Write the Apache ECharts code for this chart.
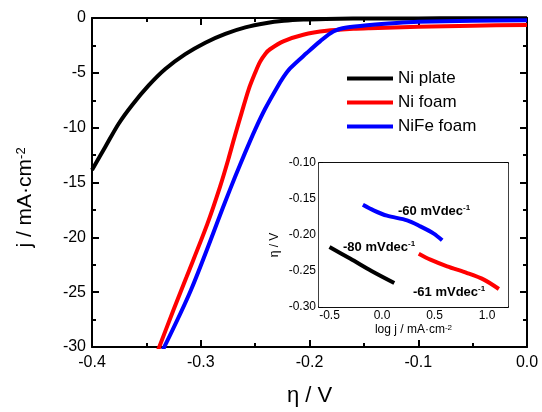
<!DOCTYPE html>
<html>
<head>
<meta charset="utf-8">
<script src="https://cdn.jsdelivr.net/npm/echarts@6/dist/echarts.min.js"></script>
<style>
  html, body { margin: 0; padding: 0; background: #fff; }
  #chart { width: 542px; height: 412px; }
</style>
</head>
<body>
<div id="chart"></div>
<script>
// main polarization curves (eta / V, j / mA cm-2)
var plateEta = [-0.40, -0.3877, -0.3755, -0.3632, -0.3479, -0.3326, -0.3142, -0.2958, -0.2774, -0.259, -0.2406, -0.2236, -0.2057, -0.185, -0.16, -0.12, -0.08, -0.04, 0.0];
var plateJ   = [-13.85, -11.74, -9.64, -7.95, -6.15, -4.65, -3.3, -2.25, -1.45, -0.86, -0.48, -0.26, -0.14, -0.08, -0.05, -0.04, -0.03, -0.02, -0.02];

var foamEta = [-0.342, -0.325, -0.313, -0.294, -0.2823, -0.2747, -0.2685, -0.2623, -0.2559, -0.25, -0.2455, -0.2405, -0.2363, -0.2241, -0.2057, -0.1842, -0.1597, -0.1444, -0.10, -0.05, 0.0];
var foamJ   = [-31.0, -26.6, -23.6, -18.8, -15.4, -12.9, -10.7, -8.6, -6.5, -5.0, -4.0, -3.25, -2.85, -2.13, -1.53, -1.17, -0.99, -0.93, -0.8, -0.7, -0.63];

var nifeEta = [-0.336, -0.309, -0.2777, -0.2685, -0.2593, -0.2501, -0.2409, -0.2302, -0.224, -0.2179, -0.2026, -0.1903, -0.1781, -0.1658, -0.1444, -0.12, -0.10, -0.05, 0.0];
var nifeJ   = [-30.5, -24.8, -16.8, -14.5, -12.3, -10.2, -8.3, -6.4, -5.4, -4.6, -3.2, -2.13, -1.23, -0.87, -0.63, -0.45, -0.35, -0.25, -0.2];

// inset Tafel plots (log j, eta)
var tPlateX = [-0.5, -0.3, -0.1, 0.117];
var tPlateY = [-0.2167, -0.233, -0.250, -0.2667];
var tFoamX  = [0.35, 0.461, 0.62, 0.811, 0.97, 1.113];
var tFoamY  = [-0.226, -0.2343, -0.2435, -0.2528, -0.262, -0.275];
var tNifeX  = [-0.182, -0.08, 0.048, 0.239, 0.365, 0.493, 0.573];
var tNifeY  = [-0.158, -0.1657, -0.1732, -0.1796, -0.188, -0.198, -0.2074];

var names = ['Ni plate', 'Ni foam', 'NiFe foam'];
var colors = ['#000000', '#ff0000', '#0000ff'];
var slopeLabels = ['-80 mVdec', '-61 mVdec', '-60 mVdec'];

var insetMajor = [-0.5, 0, 0.5, 1.0];
var insetMinor = [-0.25, 0.25, 0.75];

function zip(a, b) {
  return a.map(function (v, i) { return [v, b[i]]; });
}

var font = 'Liberation Sans, Arial, sans-serif';
var black = { color: '#000', width: 2 };

var myChart = echarts.init(document.getElementById('chart'));

function mainX(pos, showLabel) {
  return {
    gridIndex: 0, type: 'value', position: pos,
    min: -0.4, max: 0, interval: 0.1,
    axisLine: { show: true, onZero: false, lineStyle: black },
    axisTick: { show: true, inside: true, length: 7, lineStyle: black },
    minorTick: { show: true, splitNumber: 2, length: 4, lineStyle: black },
    splitLine: { show: false },
    axisLabel: {
      show: showLabel, color: '#000', fontSize: 16, fontFamily: font, margin: 8,
      formatter: function (v) { return v.toFixed(1); }
    },
    name: showLabel ? 'η / V' : '',
    nameLocation: 'middle', nameGap: 38,
    nameTextStyle: { color: '#000', fontSize: 22, fontFamily: font }
  };
}

function mainY(pos, showLabel) {
  return {
    gridIndex: 0, type: 'value', position: pos,
    min: -30, max: 0, interval: 5,
    axisLine: { show: true, onZero: false, lineStyle: black },
    axisTick: { show: true, inside: true, length: 7, lineStyle: black },
    minorTick: { show: true, splitNumber: 2, length: 4, lineStyle: black },
    splitLine: { show: false },
    axisLabel: { show: showLabel, color: '#000', fontSize: 16, fontFamily: font, margin: 6 },
    name: showLabel ? 'j / mA·cm{sup|-2}' : '',
    nameLocation: 'middle', nameGap: 56,
    nameTextStyle: {
      color: '#000', fontSize: 21, fontFamily: font, padding: [0, 30, 0, 0],
      rich: { sup: { fontSize: 13, fontFamily: font, color: '#000', verticalAlign: 'top' } }
    }
  };
}

var thin = { color: '#000', width: 1.5 };

function insetX(pos, values, len, showLabel) {
  return {
    gridIndex: 1, type: 'value', position: pos,
    min: -0.6, max: 1.2,
    axisLine: { show: true, onZero: false, lineStyle: thin },
    axisTick: { show: true, inside: true, length: len, lineStyle: thin, customValues: values },
    splitLine: { show: false },
    axisLabel: {
      show: showLabel, customValues: values, color: '#000', fontSize: 12, fontFamily: font, margin: 3,
      formatter: function (v) { return v.toFixed(1); }
    },
    name: showLabel ? 'log j / mA·cm{sup|-2}' : '',
    nameLocation: 'middle', nameGap: 17,
    nameTextStyle: {
      color: '#000', fontSize: 12, fontFamily: font,
      rich: { sup: { fontSize: 8, fontFamily: font, color: '#000', verticalAlign: 'top' } }
    }
  };
}

function insetY(pos, showLabel) {
  return {
    gridIndex: 1, type: 'value', position: pos,
    min: -0.3, max: -0.1, interval: 0.05,
    axisLine: { show: true, onZero: false, lineStyle: thin },
    axisTick: { show: true, inside: true, length: 4, lineStyle: thin },
    minorTick: { show: true, splitNumber: 2, length: 2, lineStyle: thin },
    splitLine: { show: false },
    axisLabel: {
      show: showLabel, color: '#000', fontSize: 12, fontFamily: font, margin: 3,
      formatter: function (v) { return v.toFixed(2); }
    },
    name: showLabel ? 'η / V' : '',
    nameLocation: 'middle', nameGap: 38,
    nameTextStyle: { color: '#000', fontSize: 12, fontFamily: font, padding: [0, 20, 0, 0] }
  };
}

var mainData = [zip(plateEta, plateJ), zip(foamEta, foamJ), zip(nifeEta, nifeJ)];
var tafelData = [zip(tPlateX, tPlateY), zip(tFoamX, tFoamY), zip(tNifeX, tNifeY)];

var series = [];
names.forEach(function (n, i) {
  series.push({
    name: n, type: 'line', xAxisIndex: 0, yAxisIndex: 0,
    data: mainData[i], symbol: 'none', smooth: 0.3,
    lineStyle: { color: colors[i], width: 4 }, itemStyle: { color: colors[i] },
    z: 3
  });
});
names.forEach(function (n, i) {
  series.push({
    name: n + ' (Tafel)', type: 'line', xAxisIndex: 2, yAxisIndex: 2,
    data: tafelData[i], symbol: 'none', smooth: 0.3,
    lineStyle: { color: colors[i], width: 4 }, itemStyle: { color: colors[i] },
    z: 5
  });
});

function slopeText(i, left, top) {
  return {
    type: 'text', left: left, top: top, z: 20,
    style: {
      text: '{a|' + slopeLabels[i] + '}{s|-1}',
      rich: {
        a: { fontSize: 13, fontWeight: 'bold', fontFamily: font, color: colors[i], lineHeight: 15 },
        s: { fontSize: 8, fontWeight: 'bold', fontFamily: font, color: colors[i], verticalAlign: 'top' }
      }
    }
  };
}

var option = {
  backgroundColor: '#fff',
  animation: false,
  grid: [
    { left: 92, top: 18, width: 435, height: 333, show: false },
    { left: 319, top: 163, width: 189, height: 144, show: true, backgroundColor: '#fff', borderWidth: 0, z: 4 }
  ],
  legend: {
    data: names, orient: 'vertical', left: 342, top: 65,
    icon: 'rect', itemWidth: 46, itemHeight: 4, itemGap: 7,
    textStyle: { color: '#000', fontSize: 17, fontFamily: font, lineHeight: 17 }
  },
  xAxis: [
    mainX('bottom', true),
    mainX('top', false),
    insetX('bottom', insetMajor, 4, true),
    insetX('top', insetMajor, 4, false),
    insetX('bottom', insetMinor, 2, false),
    insetX('top', insetMinor, 2, false)
  ],
  yAxis: [
    mainY('left', true),
    mainY('right', false),
    insetY('left', true),
    insetY('right', false)
  ],
  series: series,
  graphic: [
    slopeText(0, 343, 240),
    slopeText(1, 413, 285),
    slopeText(2, 398, 204)
  ]
};

myChart.setOption(option);
</script>
</body>
</html>
